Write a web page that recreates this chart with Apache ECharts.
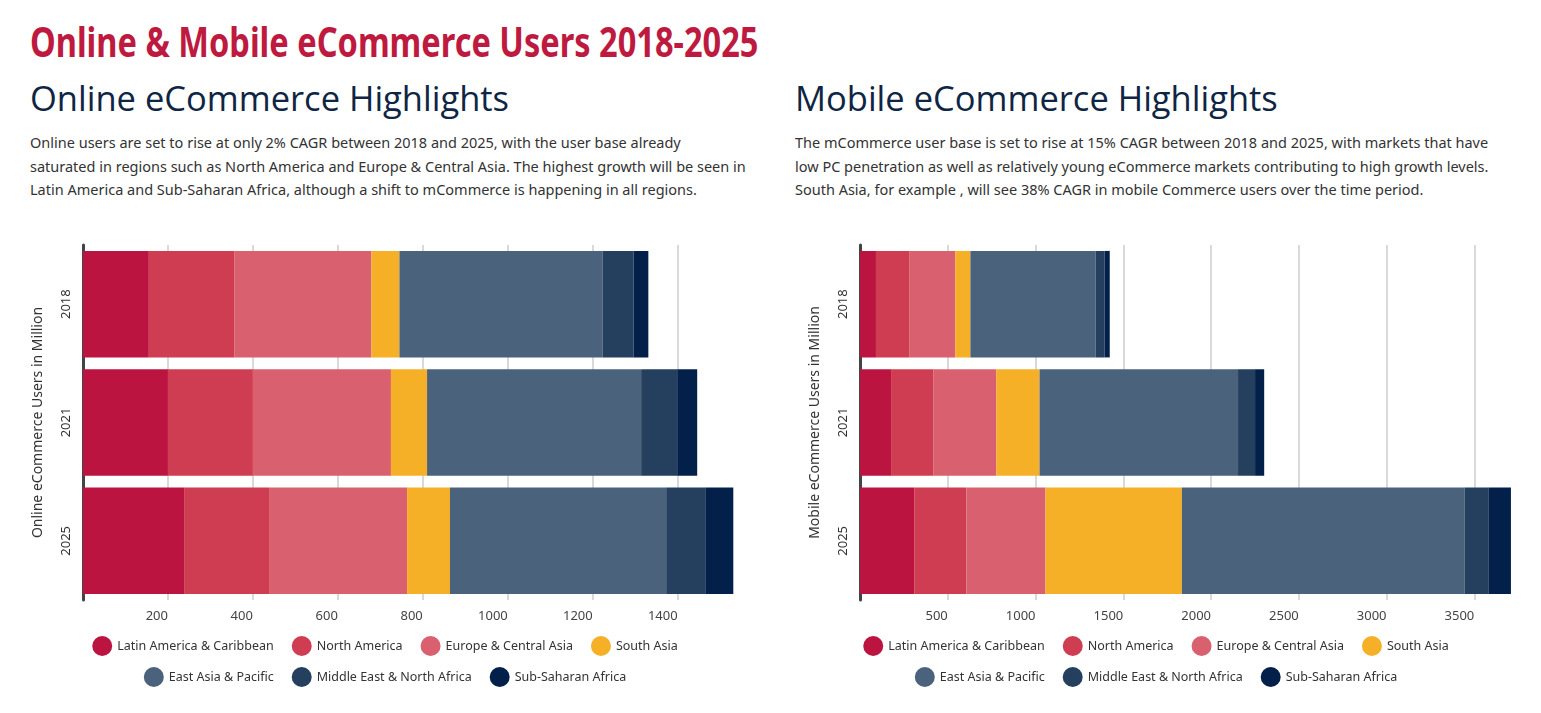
<!DOCTYPE html>
<html><head><meta charset="utf-8">
<script src="https://cdn.jsdelivr.net/npm/echarts@6/dist/echarts.min.js"></script>
<style>
body{margin:0;width:1541px;height:713px;background:#fff;font-family:"Noto Sans","Open Sans",sans-serif;position:relative;overflow:hidden}
#t{position:absolute;left:30px;top:12px;font-family:"Noto Sans",sans-serif;font-weight:bold;font-size:42px;color:#be1a40;transform:scaleX(0.775);transform-origin:left top;white-space:nowrap}
.h{position:absolute;top:74px;font-size:34.5px;color:#0e2544;font-family:"Open Sans",sans-serif;font-weight:400}
.p{position:absolute;top:131px;font-size:14.5px;line-height:23.5px;color:#333;width:708px}
.c{position:absolute;top:225px;width:770px;height:488px}
</style></head><body>
<div id="t">Online &amp; Mobile eCommerce Users 2018-2025</div>
<div class="h" style="left:30px">Online eCommerce Highlights</div>
<div class="h" style="left:795px">Mobile eCommerce Highlights</div>
<div class="p" style="left:30px;width:728px">Online users are set to rise at only 2% CAGR between 2018 and 2025, with the user base already<br>saturated in regions such as North America and Europe &amp; Central Asia. The highest growth will be seen in<br>Latin America and Sub-Saharan Africa, although a shift to mCommerce is happening in all regions.</div>
<div class="p" style="left:795px">The mCommerce user base is set to rise at 15% CAGR between 2018 and 2025, with markets that have low PC penetration as well as relatively young eCommerce markets contributing to high growth levels. South Asia, for example , will see 38% CAGR in mobile Commerce users over the time period.</div>
<div class="c" id="c1" style="left:0"></div>
<div class="c" id="c2" style="left:771px"></div>
<script>
const years=['2018','2021','2025'];
const regions=['Latin America & Caribbean','North America','Europe & Central Asia','South Asia','East Asia & Pacific','Middle East & North Africa','Sub-Saharan Africa'];
const colors=['#bc1440','#cf3d52','#d9606e','#f5b027','#4b627c','#253f5e','#03204a'];
const online=[[155,200,238],[201,200,200],[323,325,325],[66,85,101],[478,504,509],[73,85,92],[35,47,66]];
const mobile=[[91,177,309],[189,240,297],[263,360,451],[86,246,777],[714,1131,1612],[51,97,137],[29,52,126]];
function opt(data,name,max,interval,left){
 return {
  color:colors,
  textStyle:{fontFamily:'"Noto Sans", sans-serif'},
  grid:{left:left,right:770-left-652,top:20,bottom:113},
  legend:[{data:regions.slice(0,4),bottom:52,left:'center',icon:'circle',itemWidth:20,itemHeight:20,itemGap:18,textStyle:{color:'#333',fontSize:12.5}},
          {data:regions.slice(4),bottom:21,left:'center',icon:'circle',itemWidth:20,itemHeight:20,itemGap:18,textStyle:{color:'#333',fontSize:12.5}}],
  xAxis:{type:'value',min:0,max:max,interval:interval,
   axisLabel:{color:'#444',fontSize:13,align:'right',margin:10,formatter:v=>(v>0&&v%interval===0&&v<max)?String(v):''},
   splitLine:{show:true,showMinLine:false,showMaxLine:false,lineStyle:{color:'#ccc',width:1.5}},axisLine:{show:false},axisTick:{show:false}},
  yAxis:{type:'category',data:years,inverse:true,name:name,nameLocation:'middle',nameGap:38,nameTextStyle:{color:'#333',fontSize:14},
   axisLabel:{rotate:90,color:'#333',fontSize:13,margin:10},axisTick:{show:false},
   axisLine:{show:true,lineStyle:{color:'#444',width:3}}},
  series:regions.map((r,i)=>({name:r,type:'bar',stack:'a',data:data[i],barCategoryGap:'10%'}))
 };
}
echarts.init(document.getElementById('c1')).setOption(opt(online,'Online eCommerce Users in Million',1535,200,83));
echarts.init(document.getElementById('c2')).setOption(opt(mobile,'Mobile eCommerce Users in Million',3715,500,89));
</script></body></html>
